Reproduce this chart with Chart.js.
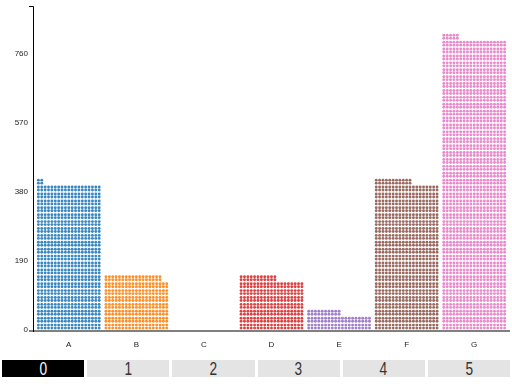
<!DOCTYPE html>
<html>
<head>
<meta charset="utf-8">
<script src="https://cdn.jsdelivr.net/npm/chart.js@4"></script>
<style>
    body { margin: 0; background: #fff; font-family: "Liberation Sans", Arial, sans-serif; }
    .grafico { position: relative; width: 512px; height: 352px; }
    .selector { display: flex; margin: 8px 2px 0 2px; height: 17px; }
    .selector .opcion {
        flex: 1; margin-right: 3px; background: #e4e4e4; color: #333;
        font-size: 19px; line-height: 17px; text-align: center; overflow: hidden;
    }
    .selector .opcion span { display: inline-block; transform: scaleX(0.72); }
    .selector .opcion:last-child { margin-right: 0; }
    .selector .opcion.activa { background: #000; color: #fff; }
</style>
</head>
<body>
<div class="grafico"><canvas id="graficaPuntos"></canvas></div>
<div class="selector" id="selector"></div>

<script>
// datos
const categorias = ["A", "B", "C", "D", "E", "F", "G"];
const valores = [401, 150, 0, 144, 48, 410, 803];
const colores = ["#3a87c0", "#ff8f26", "#2ca02c", "#dc4142", "#a07ec8", "#9a6a60", "#e88acb"];
const ticksY = [0, 190, 380, 570, 760];
const maxY = 892;
const pasos = [0, 1, 2, 3, 4, 5];

// cada franja = 19 unidades, cada columna de 2 puntos = 1 unidad
const unidadesFranja = 19;

document.addEventListener("DOMContentLoaded", () => {
    // botones de abajo
    let selector = document.getElementById("selector");
    pasos.forEach((p, i) => {
        let b = document.createElement("div");
        b.className = "opcion" + (i === 0 ? " activa" : "");
        let t = document.createElement("span");
        t.textContent = p;
        b.appendChild(t);
        selector.appendChild(b);
    });

    // dibuja los puntos dentro de cada barra
    const puntosPlugin = {
        id: "puntos",
        afterDatasetsDraw(chart) {
            let ctx = chart.ctx;
            let escY = chart.scales.y;
            let meta = chart.getDatasetMeta(0);
            let altoFranja = escY.getPixelForValue(0) - escY.getPixelForValue(unidadesFranja);
            meta.data.forEach((barra, i) => {
                let v = valores[i];
                let izq = barra.x - barra.width / 2;
                let anchoCol = barra.width / unidadesFranja;
                let base = barra.base;
                ctx.save();
                ctx.fillStyle = colores[i];
                for (let u = 0; u < v; u++) {
                    let franja = Math.floor(u / unidadesFranja);
                    let col = u % unidadesFranja;
                    let cx = izq + (col + 0.5) * anchoCol;
                    let abajo = base - franja * altoFranja;
                    [1.9, 4.9].forEach((d) => {
                        ctx.beginPath();
                        ctx.arc(cx, abajo - d, 1.45, 0, Math.PI * 2);
                        ctx.fill();
                    });
                }
                ctx.restore();
            });
        }
    };

    // lineas de ejes estilo d3
    const ejesPlugin = {
        id: "ejes",
        afterDraw(chart) {
            let ctx = chart.ctx;
            let escY = chart.scales.y;
            let area = chart.chartArea;
            let y0 = escY.getPixelForValue(0);
            let yTop = escY.getPixelForValue(maxY);
            ctx.save();
            ctx.strokeStyle = "#808080";
            ctx.lineWidth = 2;
            ctx.beginPath();
            ctx.moveTo(29, y0 + 1);
            ctx.lineTo(510, y0 + 1);
            ctx.stroke();
            ctx.strokeStyle = "#000";
            ctx.lineWidth = 1;
            ctx.beginPath();
            ctx.moveTo(29, yTop + 0.5);
            ctx.lineTo(area.left - 1.5, yTop + 0.5);
            ctx.lineTo(area.left - 1.5, y0 + 2);
            ctx.stroke();
            ctx.restore();
        }
    };

    let ctxPuntos = document.getElementById("graficaPuntos").getContext("2d");
    let fuente = { size: 8, family: "Liberation Sans, Arial, sans-serif" };
    let opciones = {
        type: "bar",
        data: {
            labels: categorias,
            datasets: [{
                data: valores,
                backgroundColor: "rgba(0,0,0,0)",
                barPercentage: 0.95,
                categoryPercentage: 1
            }]
        },
        options: {
            responsive: true,
            maintainAspectRatio: false,
            animation: false,
            layout: { padding: { top: 6, right: 4, left: 0, bottom: 0 } },
            plugins: { legend: { display: false }, tooltip: { enabled: false } },
            scales: {
                x: {
                    grid: { display: false, drawTicks: false },
                    border: { display: false },
                    ticks: { color: "#222", font: fuente, padding: 10 },
                    afterFit: (s) => { s.height = 22; s.paddingLeft = 0; s.paddingRight = 0; }
                },
                y: {
                    min: 0,
                    max: maxY,
                    grid: { display: false, drawTicks: false },
                    border: { display: false },
                    afterBuildTicks: (s) => { s.ticks = ticksY.map((v) => ({ value: v })); },
                    ticks: { color: "#222", font: fuente, padding: 7 },
                    afterFit: (s) => { s.width = 35; s.paddingTop = 0; s.paddingBottom = 0; }
                }
            }
        },
        plugins: [puntosPlugin, ejesPlugin]
    };
    let grafica = new Chart(ctxPuntos, opciones);
});
</script>
</body>
</html>
